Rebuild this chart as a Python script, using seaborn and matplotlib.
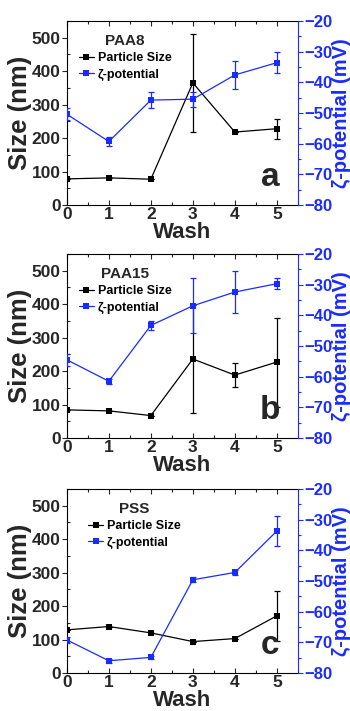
import numpy as np
import pandas as pd
import matplotlib
matplotlib.use("Agg")
import matplotlib.pyplot as plt
import seaborn as sns
from matplotlib.ticker import MultipleLocator

sns.set_theme(style="ticks")
plt.rcParams['font.family'] = ['Liberation Sans', 'DejaVu Sans']
plt.rcParams['font.weight'] = 'bold'

wash = [0, 1, 2, 3, 4, 5]
panel_titles = ["PAA8", "PAA15", "PSS"]
panel_letters = ["a", "b", "c"]

size_paa8 = [78, 81, 77, 365, 218, 228]
size_err_paa8 = [0, 0, 0, 147, 0, 30]
zeta_paa8 = [-50.4, -59.3, -45.8, -45.5, -37.6, -33.6]
zeta_err_paa8 = [2.0, 1.5, 2.5, 2.5, 4.6, 3.5]

size_paa15 = [84, 81, 67, 236, 188, 227]
size_err_paa15 = [0, 0, 0, 162, 35, 133]
zeta_paa15 = [-54.5, -61.5, -43.3, -36.9, -32.4, -29.7]
zeta_err_paa15 = [2.0, 0.8, 1.5, 9.0, 6.7, 1.8]

size_pss = [129, 139, 120, 94, 103, 171]
size_err_pss = [0, 0, 0, 0, 0, 74]
zeta_pss = [-69.2, -76.0, -74.9, -49.6, -47.2, -33.7]
zeta_err_pss = [1.0, 0.6, 0.6, 0.8, 0.8, 4.9]

sizes = [size_paa8, size_paa15, size_pss]
size_errs = [size_err_paa8, size_err_paa15, size_err_pss]
zetas = [zeta_paa8, zeta_paa15, zeta_pss]
zeta_errs = [zeta_err_paa8, zeta_err_paa15, zeta_err_pss]

BLUE = "#1a2bff"
fig = plt.figure(figsize=(3.5, 7.11), dpi=100)
bottoms = [0.7117, 0.384, 0.0534]
left, width, height = 0.191, 0.66, 0.2588
leg_x = [0.02, 0.02, 0.06]

for i in range(3):
    ax = fig.add_axes([left, bottoms[i], width, height])
    df = pd.DataFrame({"Wash": wash, "Size": sizes[i], "Zeta": zetas[i]})
    sns.lineplot(data=df, x="Wash", y="Size", ax=ax, color="black", marker="s",
                 markersize=4, linewidth=0.9, markeredgewidth=0, label="Particle Size",
                 legend=False)
    ax.errorbar(wash, sizes[i], yerr=size_errs[i], fmt='none', ecolor='black',
                elinewidth=0.9, capsize=2.5, capthick=0.9)
    ax2 = ax.twinx()
    sns.lineplot(data=df, x="Wash", y="Zeta", ax=ax2, color=BLUE, marker="s",
                 markersize=4, linewidth=0.9, markeredgewidth=0, label="ζ-potential",
                 legend=False)
    ax2.errorbar(wash, zetas[i], yerr=zeta_errs[i], fmt='none', ecolor=BLUE,
                 elinewidth=0.9, capsize=2.5, capthick=0.9)

    ax.set_xlim(0, 5.5)
    ax.set_ylim(0, 550)
    ax2.set_ylim(-80, -20)
    ax.xaxis.set_major_locator(MultipleLocator(1))
    ax.xaxis.set_minor_locator(MultipleLocator(0.5))
    ax.yaxis.set_major_locator(MultipleLocator(100))
    ax.yaxis.set_minor_locator(MultipleLocator(50))
    ax2.yaxis.set_major_locator(MultipleLocator(10))
    ax2.yaxis.set_minor_locator(MultipleLocator(5))

    ax.tick_params(axis='x', which='both', direction='in', top=True, labelsize=12.5,
                   pad=1.5)
    ax.tick_params(axis='x', which='major', length=3.5, width=0.8)
    ax.tick_params(axis='x', which='minor', length=2, width=0.8)
    ax.tick_params(axis='y', which='major', direction='out', length=3.5, width=0.8,
                   labelsize=12.5, pad=1)
    ax.tick_params(axis='y', which='minor', direction='in', length=2, width=0.8)
    ax2.tick_params(axis='y', which='major', direction='out', length=3.5, width=0.8,
                    colors=BLUE, labelsize=12, pad=1)
    ax2.tick_params(axis='y', which='minor', direction='out', length=2, width=0.8,
                    colors=BLUE)
    for lab in ax.get_xticklabels() + ax.get_yticklabels() + ax2.get_yticklabels():
        lab.set_fontweight('bold')

    for s in ['left', 'bottom', 'top']:
        ax.spines[s].set_linewidth(0.8)
        ax.spines[s].set_color('black')
    ax.spines['right'].set_visible(False)
    ax2.spines['right'].set_color(BLUE)
    ax2.spines['right'].set_linewidth(0.8)
    for s in ['left', 'bottom', 'top']:
        ax2.spines[s].set_visible(False)

    ax.set_xlabel("Wash", fontsize=16, fontweight='bold', labelpad=0)
    ax.set_ylabel("Size (nm)", fontsize=18.5, fontweight='bold', labelpad=0)
    ax2.set_ylabel("ζ-potential (mV)", fontsize=14.5, fontweight='bold', color=BLUE)
    ax2.yaxis.set_label_coords(1.148, 0.5)

    h1, l1 = ax.get_legend_handles_labels()
    h2, l2 = ax2.get_legend_handles_labels()
    leg = ax2.legend(h1 + h2, l1 + l2, title=panel_titles[i], loc='upper left',
                     bbox_to_anchor=(leg_x[i], 0.97), frameon=False, fontsize=9,
                     title_fontsize=11, handlelength=1.2, handletextpad=0.3,
                     labelspacing=0.35, borderaxespad=0.2)
    leg.get_title().set_fontweight('bold')
    leg._legend_box.align = "center"
    for t in leg.get_texts():
        t.set_color('black')

    ax.text(0.88, 0.15, panel_letters[i], transform=ax.transAxes, fontsize=24,
            fontweight='bold', ha='center', va='center')

fig.savefig("out.png", dpi=100)
